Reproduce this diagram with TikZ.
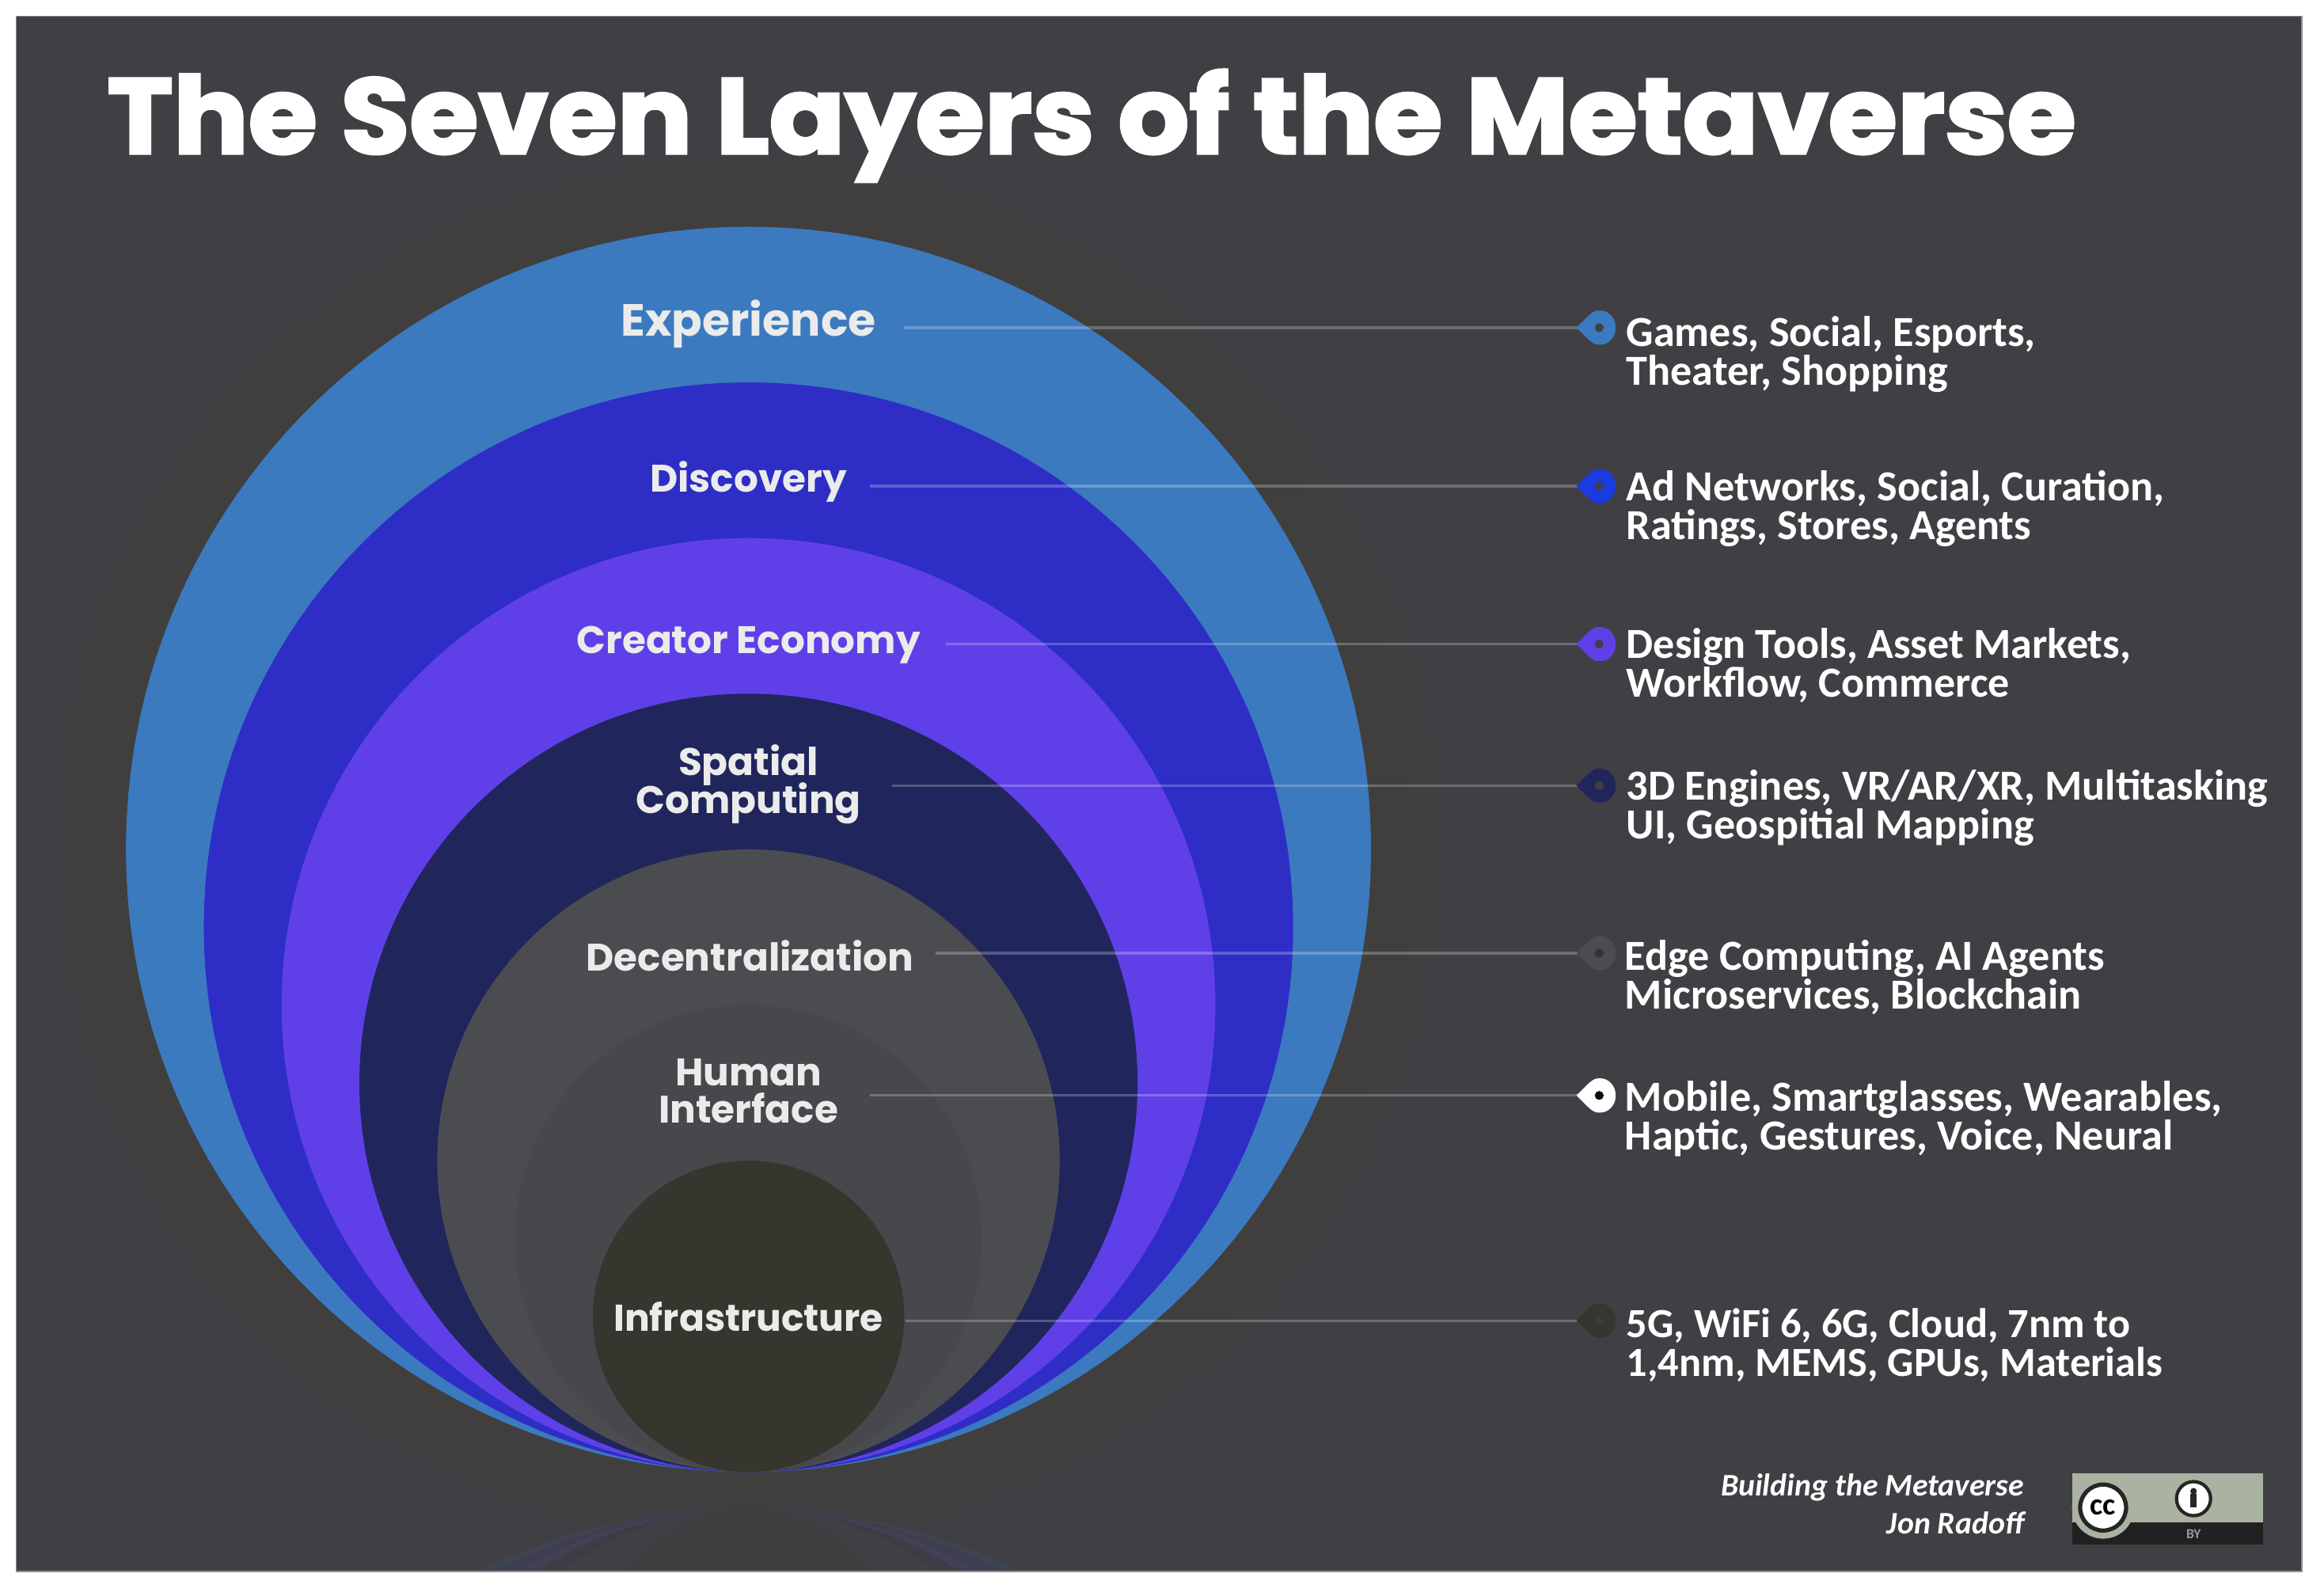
\documentclass[tikz,border=0pt]{standalone}
\usepackage{fontspec}
\usetikzlibrary{calc}
\setmainfont{Fira Sans}
\newfontfamily\titlefont[BoldFeatures={FakeBold=2.6,FakeStretch=1.045}]{Poppins}
\newfontfamily\layerfont{Poppins}
\newfontfamily\descfont{Carlito}
\definecolor{bgc}{HTML}{403F44}
\definecolor{cA}{HTML}{3B7ABF}
\definecolor{cB}{HTML}{2E2EC6}
\definecolor{cC}{HTML}{5F40E8}
\definecolor{cD}{HTML}{20265C}
\definecolor{cE}{HTML}{4B4C50}
\definecolor{cF}{HTML}{47474C}
\definecolor{cG}{HTML}{36362F}
\definecolor{pinB}{HTML}{1A3BE0}
\definecolor{badgeg}{HTML}{AAB2A2}
\newcommand{\un}{0.018724}
\AtBeginDocument{\lineskiplimit=-30pt\relax}
\tikzset{
  layer/.style={circle,draw=none,inner sep=0pt,fill=#1},
  layertext/.style={text=white!92!black,align=center,font=\layerfont\bfseries\fontsize{13.8}{13.6}\selectfont,inner sep=0pt},
  desctext/.style={text=white,align=left,anchor=west,inner sep=0pt,font=\descfont\bfseries\fontsize{15.4}{13.9}\selectfont},
  creditext/.style={text=white,anchor=base east,inner sep=0pt,font=\descfont\bfseries\itshape\fontsize{11.3}{13}\selectfont},
  leader/.style={draw=white,draw opacity=0.24,line width=1pt},
}
\newcommand{\pinmark}[3]{%
  \fill[#2,rounded corners=0.6pt] ($(#1)+(-15.5,0)$) .. controls +(5,-4.5) and +(-5,0) .. ($(#1)+(0,-11.5)$)
    .. controls +(6.5,0) and +(0,-6) .. ($(#1)+(11,0)$)
    .. controls +(0,6) and +(6.5,0) .. ($(#1)+(0,11.5)$)
    .. controls +(-5,0) and +(5,4.5) .. cycle;
  \fill[#3] (#1) circle[radius=3];
}
\begin{document}
\begin{tikzpicture}[x=\un cm,y=-\un cm]
\useasboundingbox (0,0) rectangle (1568.04,1076.16);
\fill[white] (0,0) rectangle (1568.04,1076.16);
\fill[bgc,draw=black!45!white,line width=0.5pt] (11,11) rectangle (1553,1060);
% faint halo
\foreach \rr/\op in {470/0.05,450/0.07,435/0.09}{
  \fill[black!15!bgc!80!olive,opacity=\op] (505,573) circle[radius=\rr];
}
% reflection
\begin{scope}
\clip (11,1000) rectangle (1553,1059);
\foreach \rr/\cc in {420/cA,367.5/cB,315/cC,262.5/cD,210/cE,157.5/cF,105/cG}{
  \fill[bgc] (505,1018+\rr) circle[radius=\rr+0.1];
  \fill[\cc,opacity=0.1] (505,1018+\rr) circle[radius=\rr];
}
\end{scope}
% layers
\node[layer=cA,minimum size={840*\un cm}] (L1) at (505,573) {};
\node[layer=cB,minimum size={735*\un cm}] (L2) at (505,625.5) {};
\node[layer=cC,minimum size={630*\un cm}] (L3) at (505,678) {};
\node[layer=cD,minimum size={525*\un cm}] (L4) at (505,730.5) {};
\node[layer=cE,minimum size={420*\un cm}] (L5) at (505,783) {};
\node[layer=cF,minimum size={315*\un cm}] (L6) at (505,835.5) {};
\node[layer=cG,minimum size={210*\un cm}] (L7) at (505,888) {};
% title
\node[text=white,anchor=base west,inner sep=0pt,font=\titlefont\bfseries\fontsize{38.4}{44}\selectfont] (title) at (72,103.5) {The Seven Layers of the Metaverse};
% layer labels
\node[layertext,font=\layerfont\bfseries\fontsize{16.2}{14}\selectfont] (tA) at (505,218.5) {Experience};
\node[layertext] (tB) at (505,325) {Discovery};
\node[layertext] (tC) at (505,435) {Creator Economy};
\node[layertext] (tD) at (505,529) {Spatial\\Computing};
\node[layertext] (tE) at (506,645) {Decentralization};
\node[layertext] (tF) at (505,736) {Human\\Interface};
\node[layertext,font=\layerfont\bfseries\fontsize{13.4}{13.6}\selectfont] (tG) at (505,888) {Infrastructure};
% connector ends
\coordinate (sA) at (610,221);\coordinate (pA) at (1079,221);
\coordinate (sB) at (587,328);\coordinate (pB) at (1079,328);
\coordinate (sC) at (638,434.5);\coordinate (pC) at (1079,434.5);
\coordinate (sD) at (602,530);\coordinate (pD) at (1079,530);
\coordinate (sE) at (631,643);\coordinate (pE) at (1079,643);
\coordinate (sF) at (587,739);\coordinate (pF) at (1079,739);
\coordinate (sG) at (611,891);\coordinate (pG) at (1079,891);
\foreach \k in {A,B,C,D,E,F,G}{\draw[leader] (s\k) -- (p\k);}
\pinmark{pA}{cA}{bgc}
\pinmark{pB}{pinB}{bgc}
\pinmark{pC}{cC}{bgc}
\pinmark{pD}{cD}{bgc}
\pinmark{pE}{cE}{bgc!80!black}
\pinmark{pF}{white}{black!80!bgc}
\pinmark{pG}{cG}{bgc!90!black}
% descriptions
\node[desctext] (dA) at (1097,239) {Games, Social, Esports,\\Theater, Shopping};
\node[desctext] (dB) at (1097,343) {Ad Networks, Social, Curation,\\Ratings, Stores, Agents};
\node[desctext] (dC) at (1097,449) {Design Tools, Asset Markets,\\Workflow, Commerce};
\node[desctext] (dD) at (1097,545) {3D Engines, VR/AR/XR, Multitasking\\UI, Geospitial Mapping};
\node[desctext] (dE) at (1096,659.5) {Edge Computing, AI Agents\\Microservices, Blockchain};
\node[desctext] (dF) at (1096,755) {Mobile, Smartglasses, Wearables,\\Haptic, Gestures, Voice, Neural};
\node[desctext,font=\descfont\bfseries\fontsize{14.9}{13.9}\selectfont] (dG) at (1097,907.5) {5G, WiFi 6, 6G, Cloud, 7nm to\\1,4nm, MEMS, GPUs, Materials};
% credit
\node[creditext] (cr1) at (1366,1009) {Building the Metaverse};
\node[creditext] (cr2) at (1366,1035) {Jon Radoff};
% badge
\fill[black!87] (1398,994) rectangle (1527,1042);
\fill[badgeg] (1398,994) rectangle (1527,1027);
\fill[badgeg] (1419,1017) circle[radius=21];
\node[circle,draw=black!85,line width=1.5pt,fill=white,minimum size={31*\un cm},inner sep=0pt,font=\descfont\bfseries\fontsize{11}{11}\selectfont] (cc) at (1419,1017) {cc};
\node[circle,draw=black!85,line width=1.2pt,fill=white,minimum size={23*\un cm},inner sep=0pt] (by) at (1480,1011) {};
\fill[black!85] (1480,1006) circle[radius=2.2];
\fill[black!85] (1478,1008) rectangle (1482,1017);
\node[text=white!60!black,inner sep=0pt,font=\descfont\bfseries\fontsize{5}{6}\selectfont] (bytxt) at (1480,1035) {BY};
\end{tikzpicture}
\end{document}
